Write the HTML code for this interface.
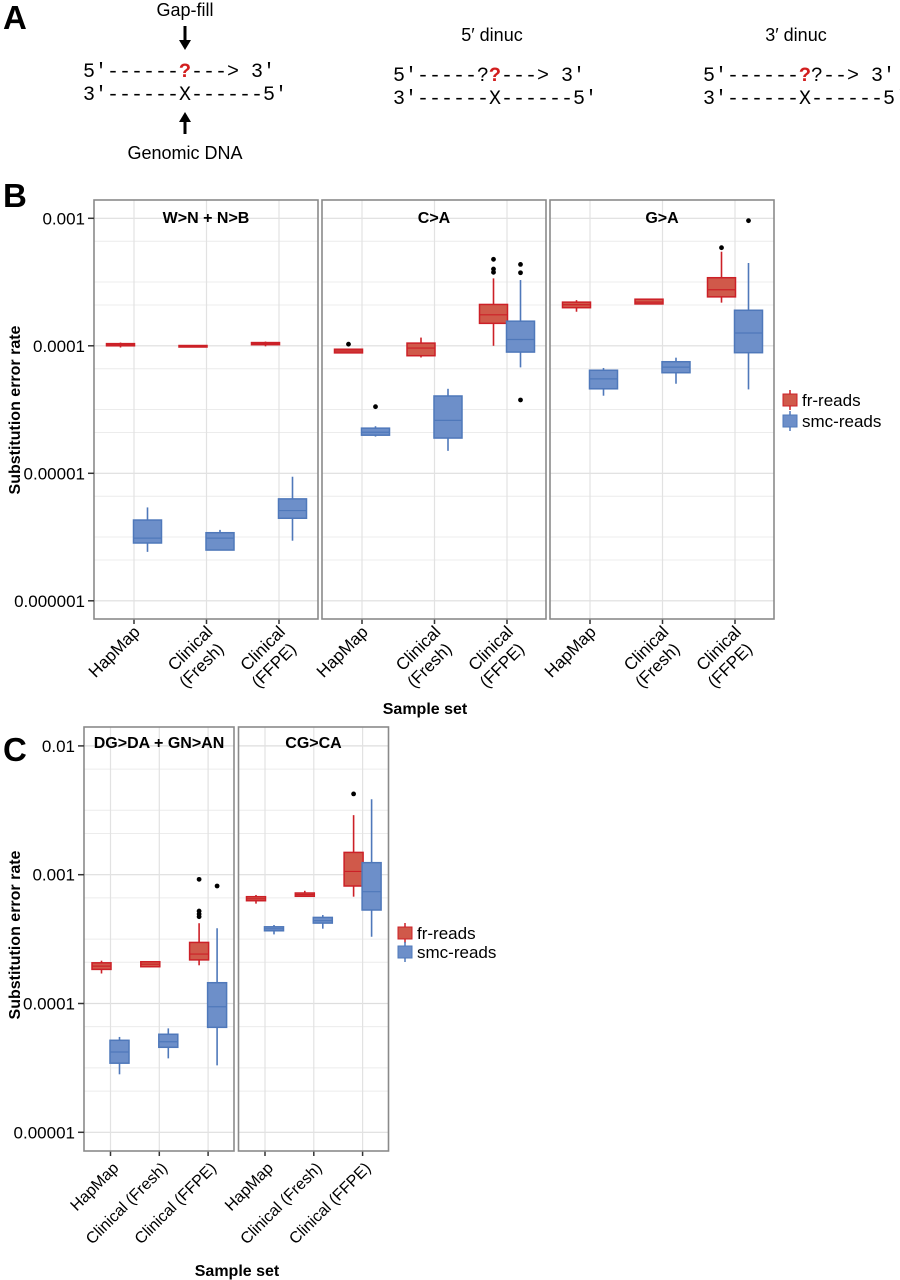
<!DOCTYPE html>
<html><head><meta charset="utf-8">
<style>
html,body{margin:0;padding:0;background:#fff;}
svg{display:block;font-family:"Liberation Sans",sans-serif;}
</style></head>
<body>
<svg id="fig" width="900" height="1280" viewBox="0 0 900 1280">
  <g>
    <text x="3" y="29" font-size="33" font-weight="bold">A</text>
    <text x="185" y="16" font-size="18" text-anchor="middle">Gap-fill</text>
    <line x1="185" y1="26" x2="185" y2="42" stroke="#000" stroke-width="3"/>
    <polygon points="179,40 191,40 185,50" fill="#000"/>
    <g font-family="Liberation Mono, monospace" font-size="20">
      <text x="83" y="77">5′------<tspan fill="#d21e1e" font-weight="bold">?</tspan>---&gt;  3′</text>
      <text x="83" y="100">3′------X------5′</text>
    </g>
    <line x1="185" y1="120" x2="185" y2="134" stroke="#000" stroke-width="3"/>
    <polygon points="179,122 191,122 185,112" fill="#000"/>
    <text x="185" y="159" font-size="18" text-anchor="middle">Genomic DNA</text>

    <text x="492" y="41" font-size="18" text-anchor="middle">5′ dinuc</text>
    <g font-family="Liberation Mono, monospace" font-size="20">
      <text x="393" y="81">5′-----?<tspan fill="#d21e1e" font-weight="bold">?</tspan>---&gt;  3′</text>
      <text x="393" y="104">3′------X------5′</text>
    </g>
    <text x="796" y="41" font-size="18" text-anchor="middle">3′ dinuc</text>
    <g font-family="Liberation Mono, monospace" font-size="20">
      <text x="703" y="81">5′------<tspan fill="#d21e1e" font-weight="bold">?</tspan>?--&gt;  3′</text>
      <text x="703" y="104">3′------X------5′</text>
    </g>
  </g>
  <text x="3" y="207" font-size="33" font-weight="bold">B</text>
  <text x="3" y="761" font-size="33" font-weight="bold">C</text>
  <g id="chartB"></g>
  <g id="chartC"></g>
</svg>
<script>
// ---------- Data: panel B ----------
const bFacets = ["W>N + N>B", "C>A", "G>A"];
const bCategories = [["HapMap"], ["Clinical", "(Fresh)"], ["Clinical", "(FFPE)"]];
const bYTicks = [0.001, 0.0001, 0.00001, 0.000001];
const bYTickLabels = ["0.001", "0.0001", "0.00001", "0.000001"];
// each entry: [low whisker, q1, median, q3, high whisker]
const bFrStats = [
  [[0.000097,0.0001,0.000102,0.000104,0.000106],[0.000099,0.0000995,0.0001,0.0001005,0.000101],[0.000099,0.000102,0.000104,0.000106,0.000108]],
  [[0.000088,0.000088,0.000091,0.000094,0.000095],[0.000081,0.0000836,0.000096,0.000105,0.000116],[0.0001,0.00015,0.000175,0.000211,0.000338]],
  [[0.000185,0.000199,0.00021,0.00022,0.000228],[0.000211,0.000213,0.00022,0.000232,0.000235],[0.000218,0.000242,0.000275,0.000342,0.000547]]
];
const bFrOutliers = [[[],[],[]],[[0.000103],[],[0.000477,0.0004,0.000377]],[[],[],[0.000588]]];
const bSmcStats = [
  [[0.00000242,0.00000284,0.0000031,0.0000043,0.0000054],[0.0000025,0.0000025,0.0000031,0.00000342,0.0000036],[0.00000296,0.00000444,0.0000051,0.0000063,0.0000094]],
  [[0.0000194,0.0000199,0.000021,0.0000226,0.0000234],[0.000015,0.0000189,0.000026,0.0000404,0.000046],[0.0000677,0.0000893,0.000112,0.000156,0.000328]],
  [[0.0000406,0.000046,0.000055,0.0000643,0.000067],[0.0000504,0.0000615,0.000068,0.000075,0.0000807],[0.0000455,0.0000883,0.000126,0.00019,0.000446]]
];
const bSmcOutliers = [[[],[],[]],[[0.0000333],[],[0.000435,0.000374,0.0000376]],[[],[],[0.000958]]];

// ---------- Data: panel C ----------
const cFacets = ["DG>DA + GN>AN", "CG>CA"];
const cCategories = [["HapMap"], ["Clinical (Fresh)"], ["Clinical (FFPE)"]];
const cYTicks = [0.01, 0.001, 0.0001, 0.00001];
const cYTickLabels = ["0.01", "0.001", "0.0001", "0.00001"];
const cFrStats = [
  [[0.000171,0.000184,0.000195,0.000207,0.000215],[0.000191,0.000193,0.000202,0.000211,0.000213],[0.000198,0.000218,0.000242,0.000298,0.00042]],
  [[0.000596,0.000628,0.00065,0.000675,0.000696],[0.00068,0.00068,0.0007,0.000721,0.00075],[0.000675,0.000817,0.00106,0.00149,0.0029]]
];
const cFrOutliers = [[[],[],[0.00092,0.000522,0.000495,0.000472]],[[],[],[0.00424]]];
const cSmcStats = [
  [[0.0000282,0.0000344,0.000042,0.0000518,0.000055],[0.0000375,0.0000457,0.0000505,0.0000577,0.0000641],[0.0000331,0.0000653,0.0000944,0.000145,0.000384]],
  [[0.000344,0.000367,0.00038,0.000394,0.000407],[0.000381,0.000421,0.00044,0.000466,0.000486],[0.00033,0.000532,0.000738,0.00124,0.00385]]
];
const cSmcOutliers = [[[],[],[0.000817]],[[],[],[]]];

const seriesNames = ["fr-reads", "smc-reads"];
const NS = "http://www.w3.org/2000/svg";
const RED = "#cc2027", RED_FILL = "#d0594a", BLUE = "#4f78ba", BLUE_FILL = "#6d8fc9";

function mk(parent, tag, attrs) {
  const e = document.createElementNS(NS, tag);
  for (const k in attrs) e.setAttribute(k, attrs[k]);
  parent.appendChild(e);
  return e;
}

function drawChart(cfg) {
  const g = document.getElementById(cfg.id);
  const yScale = v => cfg.yRef + (Math.log10(cfg.refVal) - Math.log10(v)) * cfg.dec;
  cfg.facets.forEach((facet, fi) => {
    const x0 = cfg.panelX[fi];
    const xScale = ci => x0 + cfg.catOff + ci * cfg.catStep;
    const pg = mk(g, "g", {});
    
    
    cfg.yTicks.forEach(t => {
      const yt = yScale(t);
      [0.18, 0.5, 0.68].forEach(o => {
        const yy = yt + o * cfg.dec;
        if (yy > cfg.top && yy < cfg.bottom) {
          const l = mk(pg, "line", {x1: x0, x2: x0 + cfg.pw, y1: yy, y2: yy, stroke: "#ececec", "stroke-width": 1});
          
          
        }
      });
    });
    cfg.yTicks.forEach(t => {
      const yy = yScale(t);
      const l = mk(pg, "line", {x1: x0, x2: x0 + cfg.pw, y1: yy, y2: yy, stroke: "#dedede", "stroke-width": 1.2});
      
      
    });
    cfg.categories.forEach((c, ci) => {
      const xx = xScale(ci);
      const l = mk(pg, "line", {x1: xx, x2: xx, y1: cfg.top, y2: cfg.bottom, stroke: "#e2e2e2", "stroke-width": 1.2});
      
      
      const tk = mk(pg, "line", {x1: xx, x2: xx, y1: cfg.bottom, y2: cfg.bottom + 5, stroke: "#333", "stroke-width": 1.5});
      
      
      const tx = mk(pg, "text", {transform: "translate(" + (xx + cfg.lblDx) + "," + (cfg.bottom + cfg.lblDy) + ") rotate(-45)", "text-anchor": "end", "font-size": cfg.tickFs});
      
      
      c.forEach((line, li) => {
        const ts = mk(tx, "tspan", {x: li === 0 ? 0 : -4, dy: li === 0 ? 0 : cfg.tickFs + 3});
        ts.textContent = line;
      });
    });
    const st = mk(pg, "text", {x: x0 + cfg.pw / 2, y: cfg.stripY, "text-anchor": "middle", "font-size": cfg.stripFs, "font-weight": "bold"});
    
    
    st.textContent = facet;
    const series = [
      {stats: cfg.fr[fi], out: cfg.frOut[fi], col: RED, fill: RED_FILL, off: -cfg.dodge, name: "fr"},
      {stats: cfg.smc[fi], out: cfg.smcOut[fi], col: BLUE, fill: BLUE_FILL, off: cfg.dodge, name: "smc"}
    ];
    series.forEach(s => {
      s.stats.forEach((st5, ci) => {
        const cx = xScale(ci) + s.off;
        const bg = mk(pg, "g", {});
        
        
        mk(bg, "line", {x1: cx, x2: cx, y1: yScale(st5[4]), y2: yScale(st5[0]), stroke: s.col, "stroke-width": 1.6});
        const yq3 = yScale(st5[3]), yq1 = yScale(st5[1]);
        mk(bg, "rect", {x: cx - cfg.bw / 2, y: yq3, width: cfg.bw, height: Math.max(yq1 - yq3, 1.5), fill: s.fill, stroke: s.col, "stroke-width": 1.5});
        const ym = yScale(st5[2]);
        mk(bg, "line", {x1: cx - cfg.bw / 2, x2: cx + cfg.bw / 2, y1: ym, y2: ym, stroke: s.col, "stroke-width": 1.2});
      });
      s.out.forEach((arr, ci) => {
        arr.forEach(v => {
          const d = mk(pg, "circle", {cx: xScale(ci) + s.off, cy: yScale(v), r: 2.4, fill: "#000"});
          
          
        });
      });
    });
    const fr = mk(pg, "rect", {x: x0, y: cfg.top, width: cfg.pw, height: cfg.bottom - cfg.top, fill: "none", stroke: "#8a8a8a", "stroke-width": 1.6});
    
    
  });
  cfg.yTicks.forEach((t, i) => {
    const yy = yScale(t);
    const tk = mk(g, "line", {x1: cfg.panelX[0] - 6, x2: cfg.panelX[0], y1: yy, y2: yy, stroke: "#333", "stroke-width": 1.5});
    
    
    const lb = mk(g, "text", {x: cfg.panelX[0] - 9, y: yy + 6, "text-anchor": "end", "font-size": 17});
    
    
    lb.textContent = cfg.yLabels[i];
  });
  const yt = mk(g, "text", {transform: "translate(20," + cfg.yTitleY + ") rotate(-90)", "text-anchor": "middle", "font-size": 16, "font-weight": "bold"});
  
  
  yt.textContent = "Substitution error rate";
  const xt = mk(g, "text", {x: cfg.xTitleX, y: cfg.xTitleY, "text-anchor": "middle", "font-size": 16, "font-weight": "bold"});
  
  
  xt.textContent = "Sample set";
  const cols = [[RED, RED_FILL], [BLUE, BLUE_FILL]];
  seriesNames.forEach((n, i) => {
    const lg = mk(g, "g", {});
    
    
    const ky = cfg.legY + i * cfg.legStep;
    mk(lg, "line", {x1: cfg.legX + 7, x2: cfg.legX + 7, y1: ky - 3, y2: ky + 17, stroke: cols[i][0], "stroke-width": 1.5});
    mk(lg, "rect", {x: cfg.legX, y: ky + 1, width: 14, height: 12, fill: cols[i][1], stroke: cols[i][0], "stroke-width": 1});
    const t = mk(lg, "text", {x: cfg.legX + 19, y: ky + 13, "font-size": 17});
    t.textContent = n;
  });
}

drawChart({
  id: "chartB", facets: bFacets, categories: bCategories, yTicks: bYTicks, yLabels: bYTickLabels,
  fr: bFrStats, frOut: bFrOutliers, smc: bSmcStats, smcOut: bSmcOutliers,
  panelX: [94, 322, 550], pw: 224, top: 200, bottom: 619, yRef: 218.3, refVal: 0.001, dec: 127.5,
  catOff: 40, catStep: 72.5, dodge: 13.5, bw: 28, tickFs: 17, lblDx: 7, lblDy: 14, stripY: 223, stripFs: 16,
  yTitleY: 410, xTitleX: 425, xTitleY: 714, legX: 783, legY: 393, legStep: 21
});
drawChart({
  id: "chartC", facets: cFacets, categories: cCategories, yTicks: cYTicks, yLabels: cYTickLabels,
  fr: cFrStats, frOut: cFrOutliers, smc: cSmcStats, smcOut: cSmcOutliers,
  panelX: [84, 238.5], pw: 150, top: 727, bottom: 1151, yRef: 874.7, refVal: 0.001, dec: 128.8,
  catOff: 26.5, catStep: 48.8, dodge: 9, bw: 19, tickFs: 16, lblDx: 9, lblDy: 18, stripY: 748, stripFs: 16,
  yTitleY: 935, xTitleX: 237, xTitleY: 1276, legX: 398, legY: 926, legStep: 19
});
</script>
</body></html>
